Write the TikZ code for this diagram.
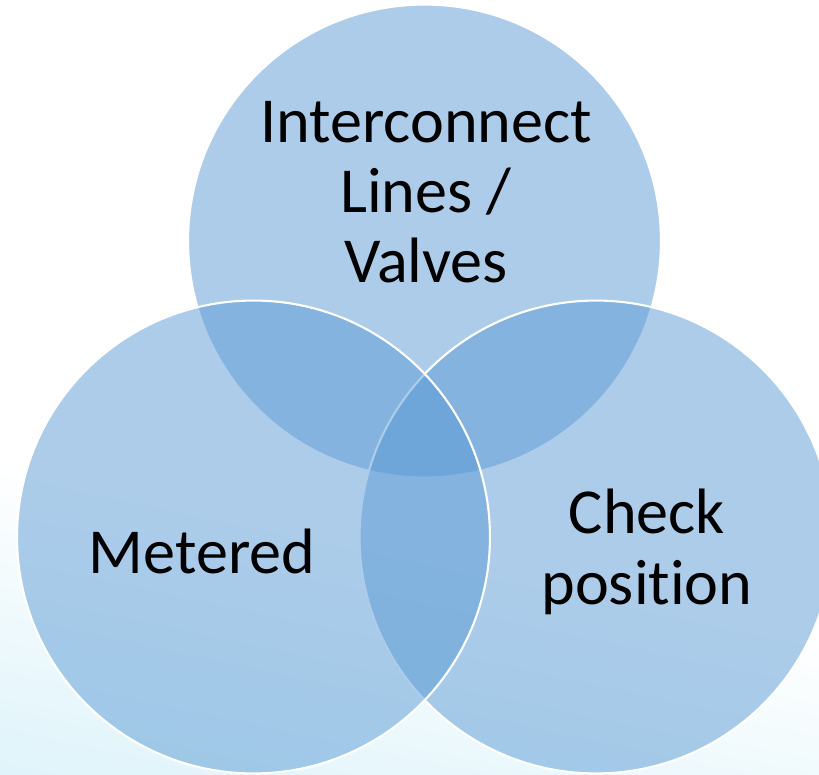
\documentclass[tikz,border=0pt]{standalone}
\usepackage{fontspec}
\setmainfont[Ligatures=NoCommon]{Carlito}
\usetikzlibrary{shapes.geometric}

\definecolor{vennblue}{RGB}{91,155,213}
\definecolor{haze}{RGB}{206,238,248}

% soft haze rising from the bottom edge
\pgfdeclareverticalshading{bottomhaze}{100bp}{color(0bp)=(haze); color(22bp)=(haze!60!white);
  color(40bp)=(white); color(100bp)=(white)}

\tikzset{
  venn/.style={circle, minimum size=9.46cm, inner sep=0pt, outer sep=0pt,
    fill=vennblue, fill opacity=0.5, draw=white, draw opacity=1, line width=1.2pt},
  venntext/.style={text=black, align=center, font=\fontsize{36.5}{40}\selectfont, inner sep=0pt}
}

\begin{document}
\begin{tikzpicture}[x=0.02cm, y=-0.02cm]
\useasboundingbox (0,0) rectangle (819,775);

% background
\shade[shading=bottomhaze, shading angle=-12] (0,0) rectangle (819,775);

% the three sets
\node[venn] (top) at (424.5,241) {};
\node[venn] (right) at (596,537) {};
\node[venn] (left) at (253.5,537) {};

% set names
\node[venntext] (valves) at (426,192) {Interconnect\\Lines /\\Valves};
\node[venntext, anchor=base] (metered) at (202,573) {Metered};
\node[venntext] (check) at (647,552) {Check\\position};

\end{tikzpicture}
\end{document}
